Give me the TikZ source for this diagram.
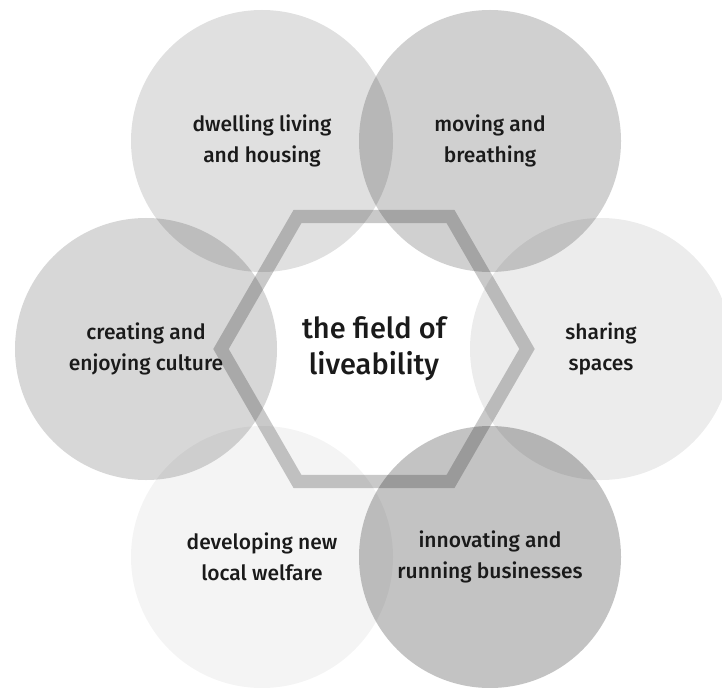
\documentclass[tikz,border=0pt]{standalone}
\usepackage{fontspec}
\setmainfont{Fira Sans}[UprightFont=* Medium]
\usetikzlibrary{shapes.geometric}
\definecolor{label_text}{RGB}{26,26,26}

\begin{document}
\begin{tikzpicture}[x=1bp, y=-1bp,
    field/.style={circle, minimum size=262bp, inner sep=0pt, fill=black, text opacity=1,
        text=label_text, align=center, font=\fontsize{21bp}{31bp}\selectfont}]

    \useasboundingbox (0,0) rectangle (722,688);

    % --- Begin Field Circles ---
    \node [field, fill opacity=0.12] (Dwelling) at (262,141) {dwelling living\\and housing};
    \node [field, fill opacity=0.185] (Moving) at (490,141) {moving and\\breathing};
    \node [field, fill opacity=0.075] (Sharing) at (601,349) {sharing\\spaces};
    \node [field, fill opacity=0.235] (Innovating) at (490,557) {innovating and\\running businesses};
    \node [field, fill opacity=0.045] (Developing) at (262,557) {developing new\\local welfare};
    \node [field, fill opacity=0.155] (Creating) at (146,349) {creating and\\enjoying culture};
    % --- End Field Circles ---

    % Hexagon in the middle, over the circles.
    \node [draw, regular polygon, regular polygon sides=6, minimum size=306bp, inner sep=0pt,
        line width=13.4bp, draw opacity=0.21, text=label_text, align=center,
        font=\fontsize{29bp}{36bp}\selectfont] (Liveability) at (374,349) {the field of\\liveability};

\end{tikzpicture}
\end{document}
